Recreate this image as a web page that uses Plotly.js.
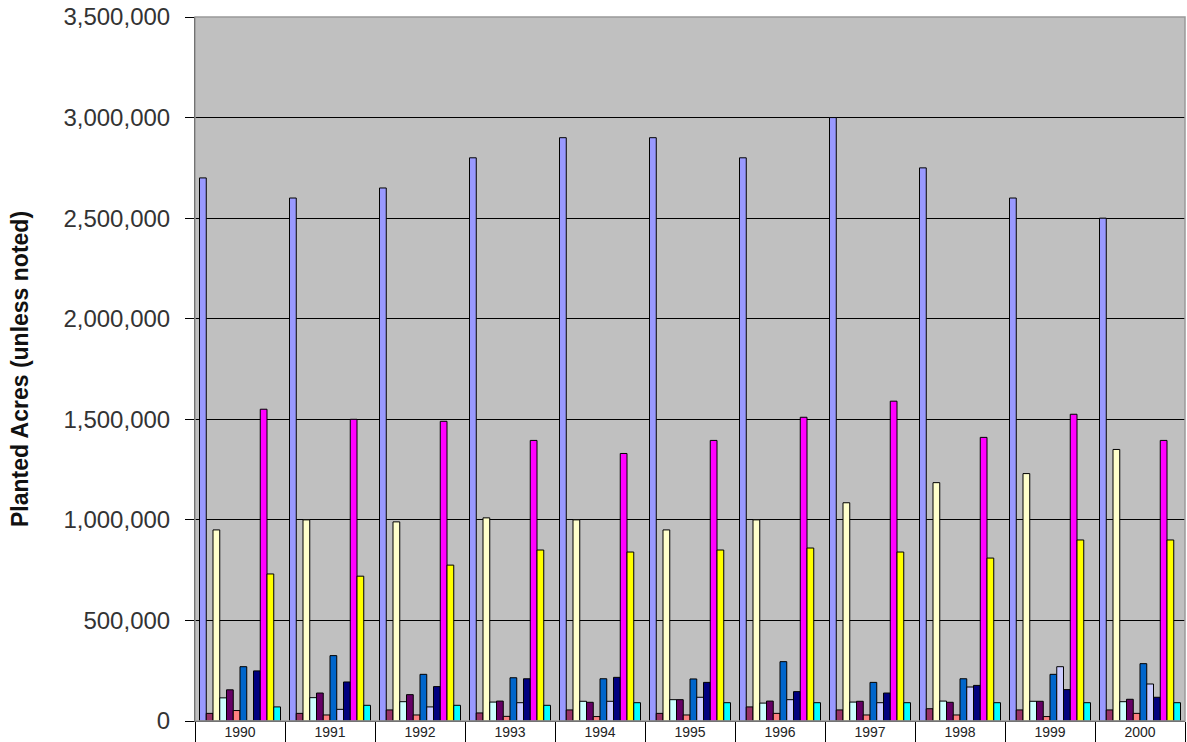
<!DOCTYPE html>
<html>
<head>
<meta charset="utf-8">
<script src="https://cdn.plot.ly/plotly-3.0.1.min.js"></script>
<style>
html,body{margin:0;padding:0;background:#fff;}
#chart{width:1187px;height:742px;}
</style>
</head>
<body>
<div id="chart"></div>
<script>
const years = ["1990","1991","1992","1993","1994","1995","1996","1997","1998","1999","2000"];

const series01 = [2700000,2600000,2650000,2800000,2900000,2900000,2800000,3000000,2750000,2600000,2500000];
const series02 = [38000,38000,55000,40000,55000,38000,70000,55000,61000,55000,55000];
const series03 = [950000,1000000,990000,1010000,1000000,950000,1000000,1085000,1185000,1230000,1350000];
const series04 = [115000,116000,96000,94000,98000,106000,89000,94000,99000,98000,96000];
const series05 = [155000,139000,131000,99000,93000,106000,99000,98000,93000,98000,108000];
const series06 = [52000,30000,30000,23000,22000,30000,38000,30000,30000,22000,38000];
const series07 = [270000,325000,232000,215000,210000,209000,295000,192000,210000,232000,285000];
const series08 = [0,58000,70000,91000,98000,118000,106000,91000,169000,270000,184000];
const series09 = [249000,194000,171000,210000,217000,192000,146000,139000,177000,156000,118000];
const series10 = [1550000,1500000,1490000,1395000,1330000,1395000,1510000,1590000,1410000,1525000,1395000];
const series11 = [731000,720000,775000,850000,840000,850000,860000,840000,810000,900000,900000];
const series12 = [70000,78000,78000,78000,91000,91000,91000,91000,91000,91000,91000];

const seriesList = [series01,series02,series03,series04,series05,series06,series07,series08,series09,series10,series11,series12];
const seriesNames = ["Series 1","Series 2","Series 3","Series 4","Series 5","Series 6","Series 7","Series 8","Series 9","Series 10","Series 11","Series 12"];
const seriesColors = ["#9999FF","#993366","#FFFFCC","#CCFFFF","#660066","#FF8080","#0066CC","#CCCCFF","#000080","#FF00FF","#FFFF00","#00FFFF"];

const yTitle = "Planted Acres (unless noted)";

const traces = seriesList.map((vals, i) => ({
  type: "bar",
  x: years,
  y: vals,
  name: seriesNames[i],
  marker: {color: seriesColors[i], line: {color: "#000000", width: 1}},
  hoverinfo: "x+y+name"
}));

const layout = {
  width: 1187,
  height: 742,
  margin: {l: 195, r: 2, t: 17, b: 21, pad: 0},
  paper_bgcolor: "#ffffff",
  plot_bgcolor: "#C0C0C0",
  showlegend: false,
  barmode: "group",
  bargap: 0.1,
  bargroupgap: 0,
  font: {family: "Liberation Sans, Arial, sans-serif", color: "#333333"},
  xaxis: {
    type: "category",
    showgrid: false,
    showline: true,
    linecolor: "#000000",
    linewidth: 1,
    ticks: "outside",
    tickson: "boundaries",
    ticklen: 21,
    tickcolor: "#000000",
    tickwidth: 1,
    ticklabelstandoff: -2,
    tickfont: {size: 14, color: "#222222"},
    fixedrange: true
  },
  yaxis: {
    range: [0, 3500000],
    dtick: 500000,
    tick0: 0,
    tickformat: ",d",
    showgrid: true,
    gridcolor: "#000000",
    gridwidth: 1,
    zeroline: false,
    showline: true,
    linecolor: "#000000",
    linewidth: 1,
    ticks: "outside",
    ticklen: 9,
    tickcolor: "#000000",
    ticklabelstandoff: 10,
    tickfont: {size: 24, color: "#333333"},
    title: {text: yTitle, font: {size: 23, color: "#111111", family: "Liberation Sans, Arial, sans-serif", weight: "bold"}, standoff: 28},
    automargin: false,
    fixedrange: true
  },
  shapes: [{
    type: "rect", xref: "paper", yref: "paper", x0: 0, x1: 1, y0: 0, y1: 1,
    line: {color: "#999999", width: 1.5}, fillcolor: "rgba(0,0,0,0)", layer: "above"
  }]
};

Plotly.newPlot("chart", traces, layout, {displayModeBar: false, staticPlot: true});
</script>
</body>
</html>
